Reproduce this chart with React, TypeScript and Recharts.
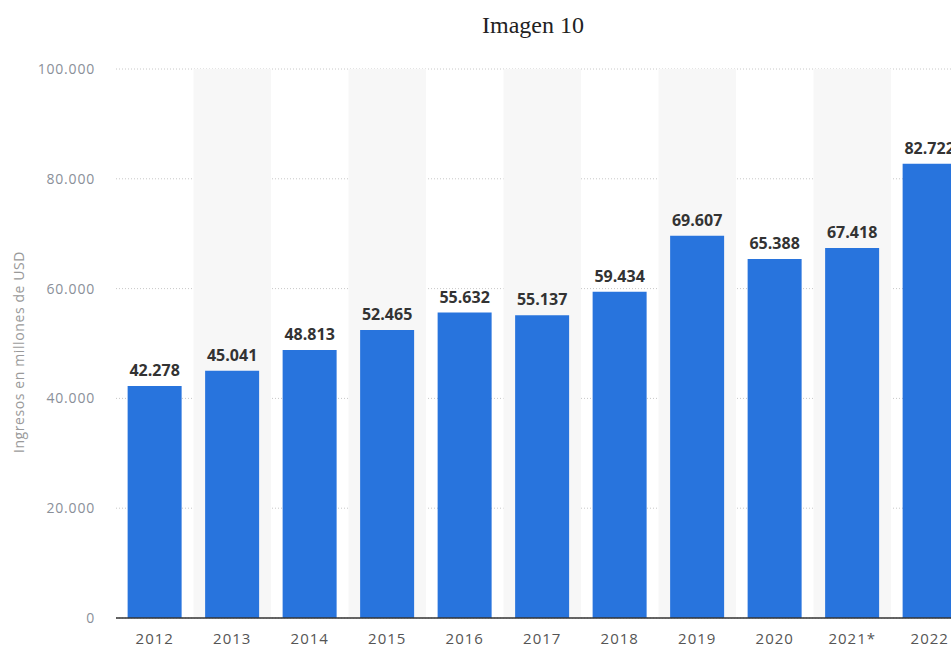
import React from 'react';
import { BarChart, Bar, XAxis, YAxis, CartesianGrid, ReferenceArea, LabelList } from 'recharts';

const years = ['2012', '2013', '2014', '2015', '2016', '2017', '2018', '2019', '2020', '2021*', '2022'];
const revenue = [42278, 45041, 48813, 52465, 55632, 55137, 59434, 69607, 65388, 67418, 82722];
const yTicks = [0, 20000, 40000, 60000, 80000, 100000];
const shadedYears = ['2013', '2015', '2017', '2019', '2021*'];

const data = years.map((year, i) => ({ year, value: revenue[i] }));

const fmt = (v: number) => String(v).replace(/\B(?=(\d{3})+(?!\d))/g, '.');

const FONT = '"Open Sans", "DejaVu Sans", sans-serif';

export default function App() {
  return (
    <div style={{ position: 'fixed', left: 0, top: 0, width: 951, height: 648, overflow: 'hidden', background: '#fff' }}>
      <div
        style={{
          position: 'absolute',
          top: 10,
          left: 433,
          width: 200,
          textAlign: 'center',
          fontFamily: '"Liberation Serif", "Times New Roman", serif',
          fontSize: 24,
          lineHeight: '30px',
          color: '#222',
          zIndex: 1,
        }}
      >
        Imagen 10
      </div>
      <div
        style={{
          position: 'absolute',
          left: 18,
          top: 352,
          transform: 'translate(-50%, -50%) rotate(-90deg)',
          whiteSpace: 'nowrap',
          fontFamily: FONT,
          fontSize: 14,
          letterSpacing: 0.6,
          color: '#999',
          zIndex: 1,
        }}
      >
        Ingresos en millones de USD
      </div>
      <div style={{ position: 'absolute', left: 8, top: 8 }}>
        <BarChart
          width={1000}
          height={642}
          data={data}
          margin={{ top: 61, right: 39.5, left: 0, bottom: 0 }}
          barCategoryGap="15%"
        >
          {shadedYears.map((y) => (
            <ReferenceArea key={y} x1={y} x2={y} fill="#f7f7f7" fillOpacity={1} stroke="none" ifOverflow="visible" />
          ))}
          <CartesianGrid vertical={false} stroke="#c8c8c8" strokeDasharray="1 2" />
          <XAxis
            dataKey="year"
            height={32}
            tickLine={false}
            tickMargin={9}
            axisLine={{ stroke: '#333', strokeWidth: 1.5 }}
            tick={{ fontSize: 15, fill: '#555', fontFamily: FONT, letterSpacing: 1 }}
            interval={0}
          />
          <YAxis
            width={108}
            domain={[0, 100000]}
            ticks={yTicks}
            axisLine={false}
            tickLine={false}
            tickMargin={15}
            tickFormatter={fmt}
            tick={{ fontSize: 14, fill: '#8a8f99', fontFamily: FONT, letterSpacing: 0.8 }}
          />
          <Bar dataKey="value" fill="#2874dd" isAnimationActive={false}>
            <LabelList
              dataKey="value"
              position="top"
              offset={10}
              formatter={(v: number) => fmt(v)}
              style={{ fontSize: 16, fontWeight: 700, fill: '#333', fontFamily: FONT }}
            />
          </Bar>
        </BarChart>
      </div>
    </div>
  );
}
